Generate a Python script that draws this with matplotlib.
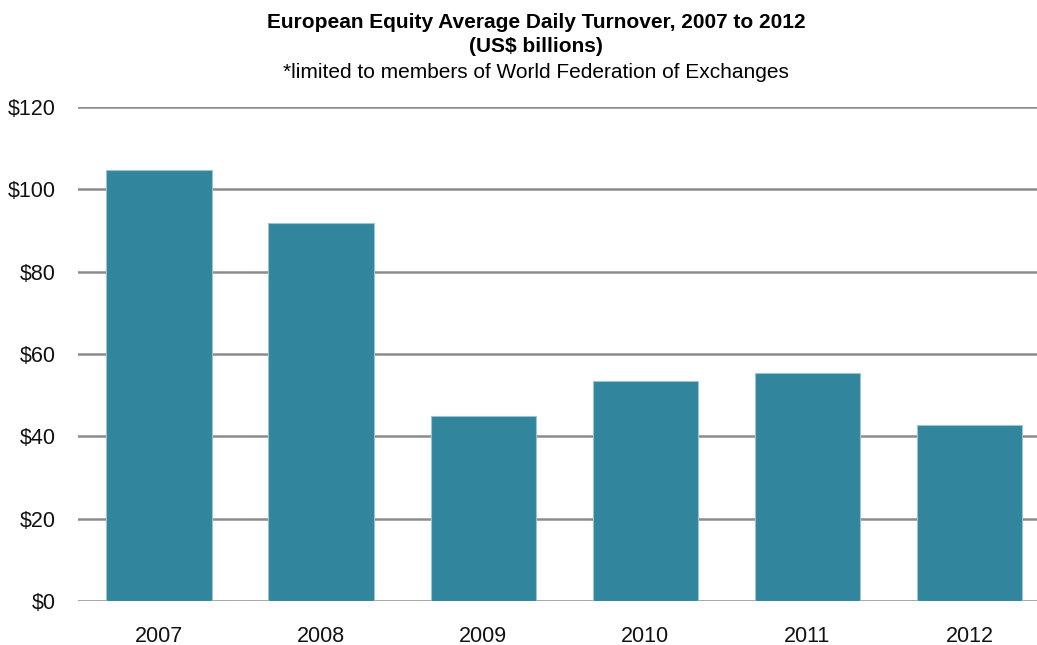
import matplotlib
matplotlib.use("Agg")
import matplotlib.pyplot as plt

years = ["2007", "2008", "2009", "2010", "2011", "2012"]
turnover = [104.6, 91.9, 45.0, 53.5, 55.4, 42.7]
yticks = [0, 20, 40, 60, 80, 100, 120]
ytick_labels = ["$0", "$20", "$40", "$60", "$80", "$100", "$120"]

plt.rcParams['font.family'] = ['Liberation Sans', 'DejaVu Sans']

W, H = 1037, 645
fig = plt.figure(figsize=(W / 100, H / 100), dpi=100)
ax = fig.add_axes([78 / W, 1 - 601 / H, 1 - 78 / W, (601 - 107) / H])

x = list(range(len(years)))
ax.bar(x, turnover, width=0.65, color="#31859C", edgecolor="#9cc3cf", linewidth=0.8, zorder=3)

ax.set_ylim(0, 120)
ax.set_xlim(-0.5, (W - 159.5) / 162.0)
ax.set_yticks(yticks)
ax.set_yticklabels(ytick_labels)
ax.set_xticks(x)
ax.set_xticklabels(years)
ax.yaxis.grid(True, color="#8c8c8c", linewidth=1.8, zorder=1)
ax.set_axisbelow(True)
for s in ax.spines.values():
    s.set_visible(False)
ax.tick_params(axis="both", length=0, labelsize=15.5, colors="#111111")
ax.tick_params(axis="y", pad=16)
ax.tick_params(axis="x", pad=18)

fig.text(536 / W, 1 - 22 / H, "European Equity Average Daily Turnover, 2007 to 2012",
         ha="center", va="center", fontsize=15, fontweight="bold")
fig.text(536 / W, 1 - 46 / H, "(US$ billions)",
         ha="center", va="center", fontsize=15, fontweight="bold")
fig.text(536 / W, 1 - 72 / H, "*limited to members of World Federation of Exchanges",
         ha="center", va="center", fontsize=15)

fig.savefig("out.png", dpi=100)
